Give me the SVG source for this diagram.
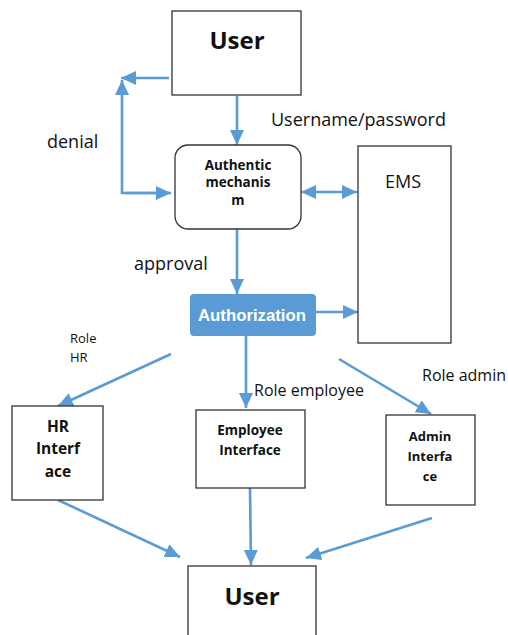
<svg xmlns="http://www.w3.org/2000/svg" width="508" height="635" viewBox="0 0 508 635">
<style>
.box{fill:#fff;stroke:#333;stroke-width:1.3}
.ln{stroke:#5b9bd5;stroke-width:2.6;fill:none}
.ar{marker-end:url(#ah)}
.t{font-family:"Open Sans","Liberation Sans",sans-serif;fill:#111}
.b{font-weight:bold}
</style>
<defs>
<marker id="ah" markerUnits="userSpaceOnUse" markerWidth="16" markerHeight="14" refX="15" refY="7" orient="auto">
<path d="M0,0 L15,7 L0,14 z" fill="#5b9bd5"/>
</marker>
<marker id="ahs" markerUnits="userSpaceOnUse" markerWidth="16" markerHeight="14" refX="15" refY="7" orient="auto-start-reverse">
<path d="M0,0 L15,7 L0,14 z" fill="#5b9bd5"/>
</marker>
</defs>
<g id="connectors">
<line class="ln ar" x1="169" y1="78" x2="121" y2="78"/>
<polyline class="ln ar" points="169,193 122,193 122,80"/>
<line class="ln ar" x1="125" y1="193" x2="171" y2="193"/>
<line class="ln ar" x1="237" y1="96" x2="237" y2="145"/>
<line class="ln" x1="301" y1="192" x2="357" y2="192" marker-start="url(#ahs)" marker-end="url(#ah)"/>
<line class="ln ar" x1="237" y1="229" x2="237" y2="294"/>
<line class="ln ar" x1="316" y1="312" x2="358" y2="312"/>
<line class="ln ar" x1="246" y1="336" x2="246" y2="408"/>
<line class="ln ar" x1="171" y1="354" x2="58" y2="406"/>
<line class="ln ar" x1="339" y1="359" x2="431" y2="414"/>
<line class="ln ar" x1="58" y1="500" x2="180" y2="557"/>
<line class="ln ar" x1="250" y1="488" x2="251" y2="565"/>
<line class="ln ar" x1="432" y1="518" x2="306" y2="558"/>
</g>
<g id="user-top">
<rect class="box" x="172" y="11" width="129" height="84"/>
<text class="t b" x="237" y="49" font-size="24" text-anchor="middle">User</text>
</g>
<g id="auth">
<rect class="box" x="175" y="145" width="126" height="84" rx="13"/>
<text class="t b" x="238" y="170" font-size="13.5" text-anchor="middle">Authentic</text>
<text class="t b" x="238" y="187" font-size="13.5" text-anchor="middle">mechanis</text>
<text class="t b" x="238" y="205" font-size="13.5" text-anchor="middle">m</text>
</g>
<g id="ems">
<rect class="box" x="358" y="146" width="93" height="197"/>
<text class="t" x="385" y="188" font-size="18">EMS</text>
</g>
<g id="authorization">
<rect x="190" y="294" width="126" height="42" rx="4" fill="#5b9bd5"/>
<text x="252" y="321" font-family="'Liberation Sans',sans-serif" font-weight="bold" font-size="17" fill="#fff" text-anchor="middle" textLength="108" lengthAdjust="spacingAndGlyphs">Authorization</text>
</g>
<g id="hr">
<rect class="box" x="12" y="406" width="91" height="94"/>
<text class="t b" x="58" y="432" font-size="15.5" text-anchor="middle">HR</text>
<text class="t b" x="58" y="454" font-size="15.5" text-anchor="middle">Interf</text>
<text class="t b" x="58" y="477" font-size="15.5" text-anchor="middle">ace</text>
</g>
<g id="employee">
<rect class="box" x="196" y="410" width="109" height="78"/>
<text class="t b" x="250" y="435" font-size="13.5" text-anchor="middle">Employee</text>
<text class="t b" x="250" y="455" font-size="13.5" text-anchor="middle">Interface</text>
</g>
<g id="admin">
<rect class="box" x="386" y="415" width="89" height="90"/>
<text class="t b" x="430" y="441" font-size="13" text-anchor="middle">Admin</text>
<text class="t b" x="430" y="461" font-size="13" text-anchor="middle">Interfa</text>
<text class="t b" x="430" y="481" font-size="13" text-anchor="middle">ce</text>
</g>
<g id="user-bottom">
<rect class="box" x="188" y="566" width="128" height="80"/>
<text class="t b" x="252" y="605" font-size="24" text-anchor="middle">User</text>
</g>
<g id="labels">
<text class="t" x="271" y="126" font-size="18">Username/password</text>
<text class="t" x="47" y="148" font-size="18">denial</text>
<text class="t" x="134" y="270" font-size="18">approval</text>
<text class="t" x="70" y="343" font-size="13">Role</text>
<text class="t" x="70" y="362" font-size="13">HR</text>
<text class="t" x="254" y="396" font-size="16">Role employee</text>
<text class="t" x="422" y="381" font-size="16">Role admin</text>
</g>
</svg>
